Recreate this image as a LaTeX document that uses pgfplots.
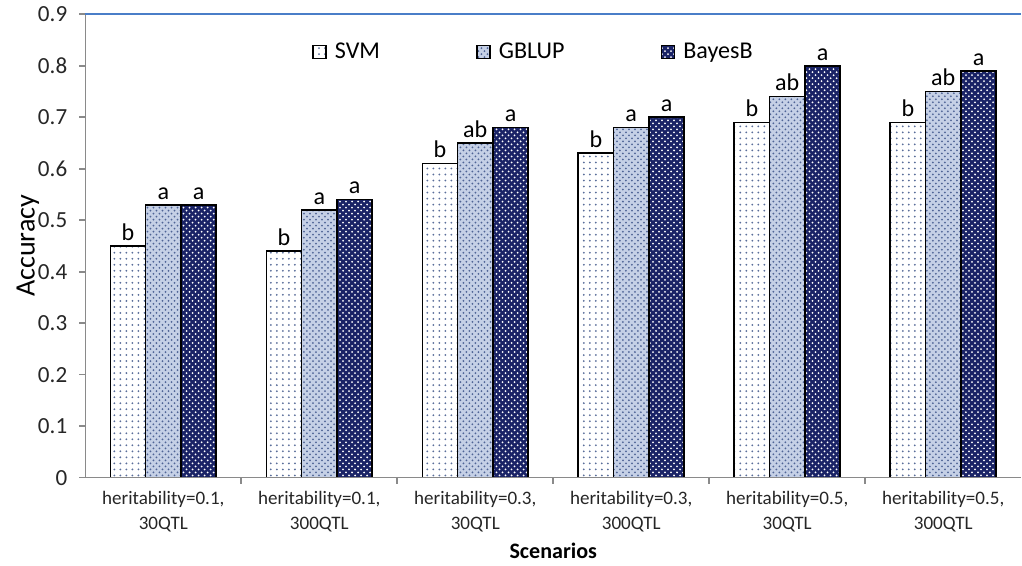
\documentclass[border=0pt]{standalone}
\usepackage{pgfplots}
\pgfplotsset{compat=1.18}
\usetikzlibrary{patterns}
\usepackage{fontspec}
\setmainfont{Carlito}
\definecolor{svmdot}{HTML}{5A6E9A}
\definecolor{gbfill}{HTML}{C5D0E6}
\definecolor{gbdot}{HTML}{4F6496}
\definecolor{bbfill}{HTML}{1A2366}
\definecolor{topblue}{HTML}{4A7EC8}
\definecolor{axgrey}{HTML}{8A8A8A}
\begin{document}
\begin{tikzpicture}
\begin{axis}[
  scale only axis, width=466.5pt, height=231pt,
  ybar=0pt, bar width=17.6pt,
  xmin=-0.5, xmax=5.5, ymin=0, ymax=0.9,
  tick pos=left,
  xtick={0,...,5},
  xticklabels={{heritability=0.1,\\30QTL},{heritability=0.1,\\300QTL},{heritability=0.3,\\30QTL},{heritability=0.3,\\300QTL},{heritability=0.5,\\30QTL},{heritability=0.5,\\300QTL}},
  x tick label style={font=\fontsize{9.5}{12.5}\selectfont, align=center, text=black!85},
  major x tick style={draw=none},
  minor xtick={0.5,1.5,...,4.5},
  minor x tick style={draw=axgrey, line width=0.8pt},
  minor tick length=3pt,
  ytick={0,0.1,...,0.9},
  y tick label style={font=\fontsize{11.5}{13}\selectfont, text=black!85, xshift=-2.5pt},
  /pgf/number format/assume math mode=true,
  yticklabel style={/pgf/number format/fixed, /pgf/number format/precision=1},
  major y tick style={draw=axgrey, line width=0.8pt},
  tick align=outside, major tick length=3pt,
  axis line style={draw=none},
  xlabel={\textbf{Scenarios}}, xlabel style={font=\fontsize{11}{13}\selectfont, yshift=1pt},
  ylabel={Accuracy}, ylabel style={font=\fontsize{14}{16}\selectfont, yshift=-7.5pt},
  nodes near coords, point meta=explicit symbolic,
  every node near coord/.append style={font=\fontsize{12}{14}\selectfont, yshift=-1pt},
  legend style={at={(0.48,1)}, anchor=north, yshift=-10pt, draw=none, fill=none,
    legend columns=3, column sep=2pt, font=\fontsize{12}{14}\selectfont,
    /tikz/every even column/.append style={column sep=46pt}},
  legend image code/.code={\draw[#1] (0pt,-3.2pt) rectangle (6.4pt,3.2pt);},
  clip=false,
]
\addplot[draw=black, thick, fill=white, postaction={pattern=dots, pattern color=svmdot}]
 coordinates {(0,0.45) [b] (1,0.44) [b] (2,0.61) [b] (3,0.63) [b] (4,0.69) [b] (5,0.69) [b]};
\addplot[draw=black, thick, fill=gbfill, postaction={pattern=crosshatch dots, pattern color=gbdot}]
 coordinates {(0,0.53) [a] (1,0.52) [a] (2,0.65) [ab] (3,0.68) [a] (4,0.74) [ab] (5,0.75) [ab]};
\addplot[draw=black, thick, fill=bbfill, postaction={pattern=crosshatch dots, pattern color=white}]
 coordinates {(0,0.53) [a] (1,0.54) [a] (2,0.68) [a] (3,0.70) [a] (4,0.80) [a] (5,0.79) [a]};
\legend{SVM, GBLUP, BayesB}
\draw[axgrey, line width=0.8pt] (rel axis cs:0,0) -- (rel axis cs:1,0);
\draw[axgrey, line width=0.8pt] (rel axis cs:0,0) -- (rel axis cs:0,1);
\draw[topblue, line width=0.8pt] (rel axis cs:0,1) -- (rel axis cs:1,1);
\end{axis}
\path ([xshift=-5pt]current bounding box.west);
\end{tikzpicture}
\end{document}
